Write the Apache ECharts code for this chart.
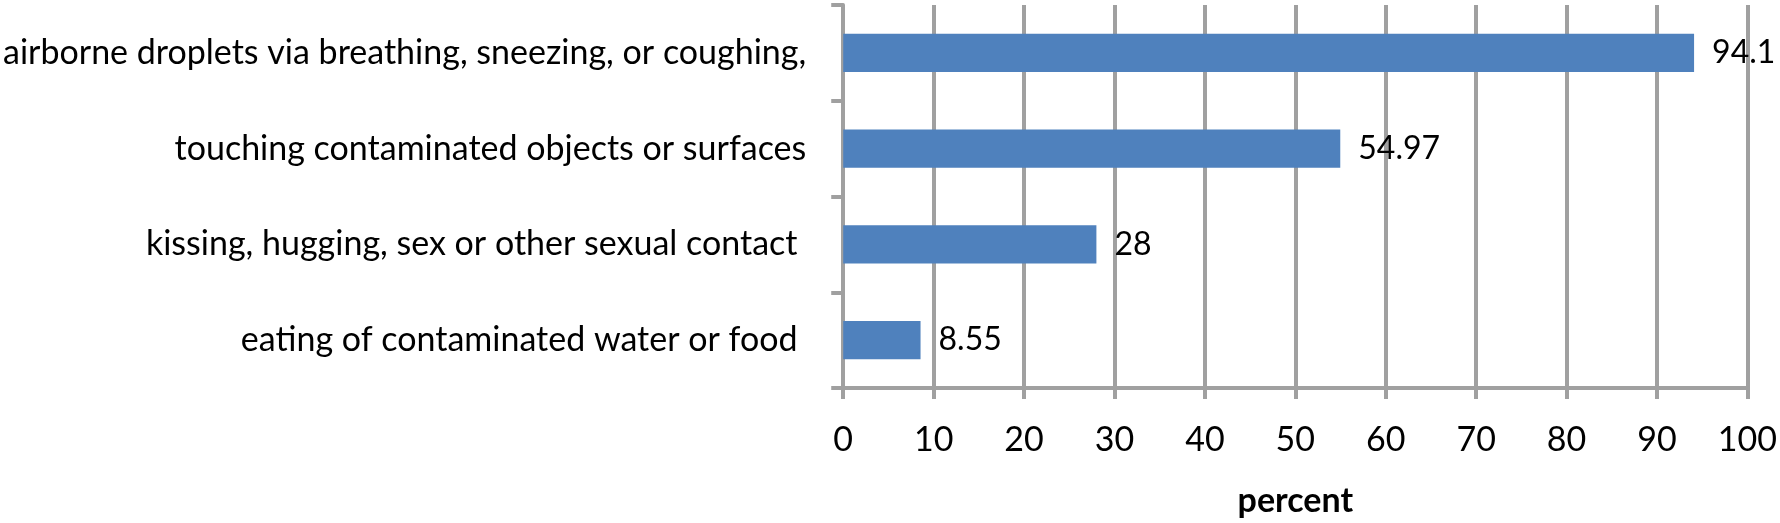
<!DOCTYPE html>
<html>
<head>
<meta charset="utf-8">
<script src="https://cdn.jsdelivr.net/npm/echarts@6/dist/echarts.min.js"></script>
<style>
  html, body { margin: 0; padding: 0; background: #fff; }
  #chart { width: 1780px; height: 523px; }
</style>
</head>
<body>
<div id="chart"></div>
<script>
// categories, top to bottom as in the picture
const categories = [
    'airborne droplets via breathing, sneezing, or coughing,',
    'touching contaminated objects or surfaces',
    'kissing, hugging, sex or other sexual contact ',
    'eating of contaminated water or food '
];
const percentValues = [94.1, 54.97, 28, 8.55];
const xTicks = [0, 100, 10]; // min, max, interval

const FONT = 'Lato';
const GRAY = '#a0a0a0';

const chart = echarts.init(document.getElementById('chart'));
chart.setOption({
    animation: false,
    grid: { left: 843, right: 31, top: 5, bottom: 132 },
    xAxis: {
        type: 'value',
        min: xTicks[0],
        max: xTicks[1],
        interval: xTicks[2],
        name: 'percent',
        nameLocation: 'middle',
        nameGap: 96,
        nameTextStyle: { fontFamily: FONT, fontSize: 34, fontWeight: 'bold', color: '#000' },
        axisLine: { show: true, lineStyle: { color: GRAY, width: 4 } },
        axisTick: { show: true, length: 11, lineStyle: { color: GRAY, width: 4 } },
        axisLabel: { fontFamily: FONT, fontSize: 34, color: '#000', margin: 35 },
        splitLine: { show: true, lineStyle: { color: GRAY, width: 4 } }
    },
    yAxis: {
        type: 'category',
        data: categories,
        inverse: true,
        axisLine: { show: true, lineStyle: { color: GRAY, width: 4 } },
        axisTick: { show: true, length: 12, lineStyle: { color: GRAY, width: 4 } },
        axisLabel: { fontFamily: FONT, fontSize: 34, color: '#000', margin: 37 }
    },
    series: [{
        type: 'bar',
        data: percentValues,
        barWidth: '40%',
        itemStyle: { color: '#4f81bd' },
        label: {
            show: true,
            position: 'right',
            distance: 18,
            fontFamily: FONT,
            fontSize: 32,
            color: '#000'
        }
    }]
});
</script>
</body>
</html>
